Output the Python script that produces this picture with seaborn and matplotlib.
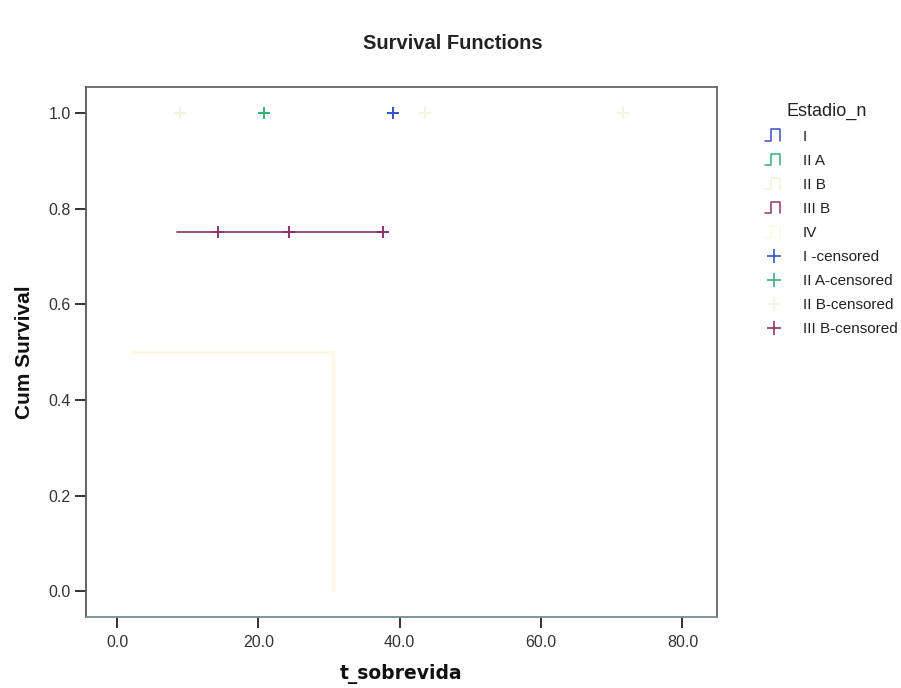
import numpy as np
import pandas as pd
import matplotlib
matplotlib.use("Agg")
import matplotlib.pyplot as plt
import seaborn as sns
from matplotlib.lines import Line2D
from matplotlib.legend_handler import HandlerBase

# ---- data ----
groups = ["I", "II A", "II B", "III B", "IV"]
group_colors = ["#3550c8", "#35b07a", "#f4f1dc", "#8e3468", "#fcfae4"]

# survival curves (step functions)
curve_group = ["III B", "III B", "IV", "IV"]
curve_time = [8.5, 37.6, 2.0, 30.6]
curve_surv = [0.75, 0.75, 0.50, 0.00]

# censored observations
cens_group = ["I", "II A", "II B", "II B", "II B", "III B", "III B", "III B"]
cens_time = [39.0, 20.8, 8.9, 43.6, 71.6, 14.3, 24.3, 37.6]
cens_surv = [1.0, 1.0, 1.0, 1.0, 1.0, 0.75, 0.75, 0.75]

x_ticks = [0, 20, 40, 60, 80]
x_ticklabels = ["0.0", "20.0", "40.0", "60.0", "80.0"]
y_ticks = [0.0, 0.2, 0.4, 0.6, 0.8, 1.0]
y_ticklabels = ["0.0", "0.2", "0.4", "0.6", "0.8", "1.0"]

legend_labels = ["I", "II A", "II B", "III B", "IV",
                 "I -censored", "II A-censored", "II B-censored", "III B-censored"]

# ---- style ----
sns.set_style("white")
plt.rcParams["font.family"] = ["Liberation Sans", "DejaVu Sans"]

palette = dict(zip(groups, group_colors))

fig = plt.figure(figsize=(9.01, 6.88), dpi=100)
ax = fig.add_axes([0.0954, 0.1032, 0.7004, 0.7703])

curves = pd.DataFrame({"time": curve_time, "surv": curve_surv, "grp": curve_group})
cens = pd.DataFrame({"time": cens_time, "surv": cens_surv, "grp": cens_group})

for g in ["IV", "III B"]:
    sub = curves[curves.grp == g]
    sns.lineplot(data=sub, x="time", y="surv", color=palette[g],
                 drawstyle="steps-post", estimator=None, sort=False,
                 linewidth=1.2 if g == "III B" else 2.2, legend=False, ax=ax)

sns.scatterplot(data=cens, x="time", y="surv", hue="grp", palette=palette,
                marker="+", s=75, linewidth=1.4, legend=False, ax=ax, zorder=3)

ax.set_xlim(-4.4, 84.9)
ax.set_ylim(-0.054, 1.054)
ax.set_xticks(x_ticks)
ax.set_xticklabels(x_ticklabels)
ax.set_yticks(y_ticks)
ax.set_yticklabels(y_ticklabels)
ax.tick_params(axis="both", bottom=True, left=True, direction="out", length=8,
               width=1.4, color="#333333", labelsize=11.5, labelcolor="#333333", pad=3)
ax.tick_params(axis="x", pad=5)
for sp in ax.spines.values():
    sp.set_visible(True)
    sp.set_color("#666666")
    sp.set_linewidth(1.3)
ax.spines["left"].set_color("#555555")
ax.spines["bottom"].set_color("#6f8f8f")

ax.set_xlabel("t_sobrevida", fontsize=13.5, fontweight="bold", labelpad=10,
              color="#111111", family="DejaVu Sans")
ax.set_ylabel("Cum Survival", fontsize=15, fontweight="bold", labelpad=10, color="#111111")
fig.text(0.503, 0.937, "Survival Functions", ha="center", va="center",
         fontsize=14.5, fontweight="bold", color="#222222")


class StepHandler(HandlerBase):
    def create_artists(self, legend, orig_handle, xdescent, ydescent,
                       width, height, fontsize, trans):
        x0 = -xdescent
        y0 = -ydescent
        xs = [x0, x0 + 0.35 * width, x0 + 0.35 * width, x0 + 0.85 * width, x0 + 0.85 * width]
        ys = [y0 - 0.05 * height, y0 - 0.05 * height, y0 + 1.05 * height,
              y0 + 1.05 * height, y0 - 0.05 * height]
        ln = Line2D(xs, ys, color=orig_handle.get_color(), linewidth=1.1, transform=trans)
        return [ln]


class StepProxy(Line2D):
    pass


handles = []
for g, c in zip(groups, group_colors):
    handles.append(StepProxy([], [], color=c))
for g in ["I", "II A", "II B", "III B"]:
    handles.append(Line2D([], [], color=palette[g], marker="+", linestyle="none",
                          markersize=10, markeredgewidth=1.2))

leg = fig.legend(handles, legend_labels, loc="upper left",
                 bbox_to_anchor=(0.842, 0.860), frameon=False,
                 title="Estadio_n", title_fontsize=13, fontsize=11,
                 handlelength=1.2, handletextpad=1.3, labelspacing=0.66,
                 borderaxespad=0, handler_map={StepProxy: StepHandler()})
leg._legend_box.align = "left"
for t in leg.get_texts():
    t.set_color("#222222")
leg.get_title().set_color("#222222")
leg.get_title().set_position((22, 0))

fig.savefig("out.png", dpi=100, facecolor="white")
